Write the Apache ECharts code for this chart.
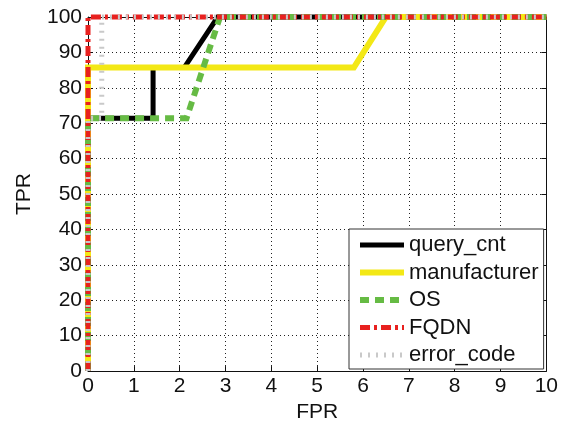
<!DOCTYPE html>
<html>
<head>
<meta charset="utf-8">
<script src="https://cdn.jsdelivr.net/npm/echarts@6/dist/echarts.min.js"></script>
<style>html,body{margin:0;padding:0;background:#fff}#c{width:561px;height:428px}</style>
</head>
<body>
<div id="c"></div>
<script>
const seriesNames = ['query_cnt', 'manufacturer', 'OS', 'FQDN', 'error_code'];
const queryCnt = [[0,0],[0,71.43],[1.42,71.43],[1.42,85.71],[2.1,85.71],[2.83,100],[10,100]];
const manufacturer = [[0,0],[0,85.71],[5.8,85.71],[6.5,100],[10,100]];
const osData = [[0,0],[0,71.43],[2.15,71.43],[2.88,100],[10,100]];
const fqdn = [[0,0],[0,100],[10,100]];
const errorCode = [[0,0],[0,71.43],[0.3,71.43],[0.3,100],[10,100]];
const xTicks = [0,1,2,3,4,5,6,7,8,9,10];
const yTicks = [0,10,20,30,40,50,60,70,80,90,100];

const FONT = '"Liberation Sans", Arial, sans-serif';
const styles = [
  {color:'#000000', width:5, type:'solid'},
  {color:'#f3e816', width:6, type:'solid'},
  {color:'#66bb44', width:6, type:[9,6]},
  {color:'#e8211f', width:5, type:[10,4,3,4]},
  {color:'#c9c9c9', width:5, type:[2,6]}
];
const datas = [queryCnt, manufacturer, osData, fqdn, errorCode];

const chart = echarts.init(document.getElementById('c'), null, {renderer:'canvas'});
const axisBase = {
  type:'value',
  axisLine:{show:true, onZero:false, lineStyle:{color:'#111', width:1}},
  axisTick:{show:true, inside:true, length:5, lineStyle:{color:'#111'}},
};
chart.setOption({
  animation:false,
  backgroundColor:'#fff',
  grid:{left:88, right:12, top:17, bottom:52, containLabel:false},
  legend:{
    orient:'vertical', left:349, top:229,
    data:seriesNames.map((n,i) => ({
      name:n,
      itemStyle:{opacity:0},
      lineStyle:{color:styles[i].color, width:styles[i].width, type:styles[i].type, cap:'butt', opacity:1}
    })),
    itemWidth:44, itemHeight:14, itemGap:5.5, itemTextGap:4,
    padding:[5,5,3,8],
    borderColor:'#333', borderWidth:1, backgroundColor:'#fff',
    textStyle:{fontFamily:FONT, fontSize:22, color:'#111', lineHeight:22}
  },
  xAxis:[
    Object.assign({}, axisBase, {
      min:0, max:10, interval:1, position:'bottom',
      name:'FPR', nameLocation:'middle', nameGap:29,
      nameTextStyle:{fontFamily:FONT, fontSize:21, color:'#111'},
      axisLabel:{fontFamily:FONT, fontSize:21, color:'#111', margin:5,
        formatter:v => xTicks.includes(v) ? String(v) : ''},
      splitLine:{show:true, lineStyle:{color:'#222', width:1, type:[1,3]}}
    }),
    Object.assign({}, axisBase, {
      min:0, max:10, interval:1, position:'top',
      axisLabel:{show:false}, splitLine:{show:false}
    })
  ],
  yAxis:[
    Object.assign({}, axisBase, {
      min:0, max:100, interval:10, position:'left',
      name:'TPR', nameLocation:'middle', nameGap:53, nameRotate:90,
      nameTextStyle:{fontFamily:FONT, fontSize:21, color:'#111'},
      axisLabel:{fontFamily:FONT, fontSize:21, color:'#111', margin:6,
        formatter:v => yTicks.includes(v) ? String(v) : ''},
      splitLine:{show:true, lineStyle:{color:'#222', width:1, type:[1,3]}}
    }),
    Object.assign({}, axisBase, {
      min:0, max:100, interval:10, position:'right',
      axisLabel:{show:false}, splitLine:{show:false}
    })
  ],
  series: seriesNames.map((n,i) => ({
    name:n, type:'line', data:datas[i],
    xAxisIndex:0, yAxisIndex:0,
    showSymbol:false, symbol:'none',
    clip:false,
    itemStyle:{color:styles[i].color},
    lineStyle:{color:styles[i].color, width:styles[i].width, type:styles[i].type, cap:'butt', join:'miter'},
    z:2+i
  }))
});
</script>
</body>
</html>
